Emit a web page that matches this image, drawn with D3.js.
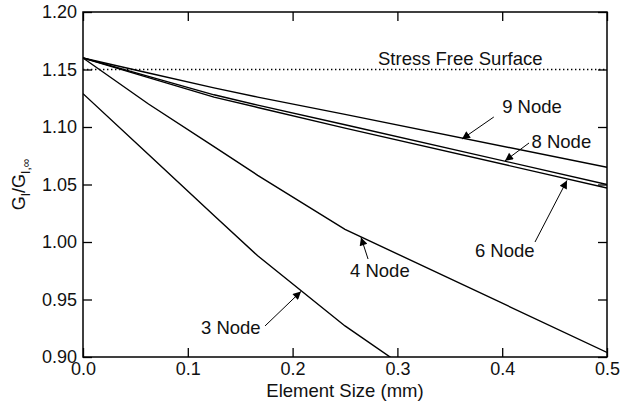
<!DOCTYPE html>
<html>
<head>
<meta charset="utf-8">
<script src="https://cdn.jsdelivr.net/npm/d3@7"></script>
<style>
    body { margin: 0; background: #fff; }
    svg { display: block; font-family: "Liberation Sans", Arial, Helvetica, sans-serif; }
</style>
</head>
<body>
<div id="chart"></div>
<script>
// 1. Data
const elementSizes = [0, 0.0625, 0.125, 0.1667, 0.25, 0.5];
const node9 = [1.160, 1.147, 1.134, 1.126, 1.111, 1.065];
const node8 = [1.160, 1.144, 1.128, 1.119, 1.102, 1.050];
const node6 = [1.160, 1.143, 1.126, 1.117, 1.099, 1.047];
const node4 = [1.160, 1.120, 1.083, 1.058, 1.011, 0.904];
const node3 = [1.129, 1.076, 1.023, 0.988, 0.927, 0.770];

const stressFree = 1.15;
const xTicks = [0, 0.1, 0.2, 0.3, 0.4, 0.5];
const yTicks = [0.90, 0.95, 1.00, 1.05, 1.10, 1.15, 1.20];

// label text, text anchor point, arrow tail, arrow head (data units)
const labels = [
    { text: "9 Node", tx: 0.400, ty: 1.1122, x1: 0.392, y1: 1.1087, x2: 0.3616, y2: 1.0895 },
    { text: "8 Node", tx: 0.428, ty: 1.0817, x1: 0.4256, y1: 1.0861, x2: 0.4027, y2: 1.0706 },
    { text: "6 Node", tx: 0.374, ty: 0.987, x1: 0.4313, y1: 1.000, x2: 0.4618, y2: 1.0535 },
    { text: "4 Node", tx: 0.2548, ty: 0.9696, x1: 0.272, y1: 0.9852, x2: 0.2653, y2: 1.0040 },
    { text: "3 Node", tx: 0.1126, ty: 0.920, x1: 0.1737, y1: 0.927, x2: 0.208, y2: 0.9570 }
];

// 2. Chart
function renderChart() {
    const width = 632, height = 408;
    const margin = { top: 12, right: 25, bottom: 51, left: 83 };
    const plotWidth = width - margin.left - margin.right;
    const plotHeight = height - margin.top - margin.bottom;
    const fontSize = "18.5px";

    const svg = d3.select("#chart").append("svg")
        .attr("width", width)
        .attr("height", height);

    svg.append("defs").append("clipPath").attr("id", "plot-clip")
        .append("rect").attr("width", plotWidth).attr("height", plotHeight);

    svg.select("defs").append("marker")
        .attr("id", "arrow")
        .attr("viewBox", "0 0 10 10")
        .attr("refX", 10).attr("refY", 5)
        .attr("markerUnits", "userSpaceOnUse")
        .attr("markerWidth", 11).attr("markerHeight", 8)
        .attr("orient", "auto")
        .append("path").attr("d", "M0,0 L10,5 L0,10 Z").attr("fill", "#000");

    const chart = svg.append("g").attr("transform", `translate(${margin.left},${margin.top})`);

    const x = d3.scaleLinear().domain([0, 0.5]).range([0, plotWidth]);
    const y = d3.scaleLinear().domain([0.90, 1.20]).range([plotHeight, 0]);

    // axes, ticks pointing inward on all four sides
    const tickLen = 9;
    chart.append("g").attr("class", "axis")
        .attr("transform", `translate(0,${plotHeight})`)
        .call(d3.axisBottom(x).tickValues(xTicks).tickSizeInner(-tickLen).tickSizeOuter(0)
            .tickPadding(5).tickFormat(d3.format(".1f")));
    chart.append("g").attr("class", "axis")
        .call(d3.axisTop(x).tickValues(xTicks).tickSizeInner(-tickLen).tickSizeOuter(0).tickFormat(""));
    chart.append("g").attr("class", "axis")
        .call(d3.axisLeft(y).tickValues(yTicks).tickSizeInner(-tickLen).tickSizeOuter(0)
            .tickPadding(6).tickFormat(d3.format(".2f")));
    chart.append("g").attr("class", "axis")
        .attr("transform", `translate(${plotWidth},0)`)
        .call(d3.axisRight(y).tickValues(yTicks).tickSizeInner(-tickLen).tickSizeOuter(0).tickFormat(""));

    chart.selectAll(".axis .domain").remove();
    chart.selectAll(".axis line").attr("stroke", "#000").attr("stroke-width", 1.3);
    chart.selectAll(".axis text").attr("fill", "#111").style("font-size", "18px")
        .style("font-family", "'Liberation Sans', Arial, sans-serif");

    chart.append("rect")
        .attr("width", plotWidth).attr("height", plotHeight)
        .attr("fill", "none").attr("stroke", "#000").attr("stroke-width", 1.5);

    // stress free reference line
    chart.append("line")
        .attr("x1", x(0)).attr("x2", x(0.5))
        .attr("y1", y(stressFree)).attr("y2", y(stressFree))
        .attr("stroke", "#000").attr("stroke-width", 1.4)
        .attr("stroke-dasharray", "1.4,2.6");
    chart.append("text")
        .attr("x", x(0.2815)).attr("y", y(1.1539))
        .style("font-size", fontSize).attr("fill", "#111")
        .text("Stress Free Surface");

    // element curves
    const series = [node9, node8, node6, node4, node3];
    const line = d3.line()
        .x((v, i) => x(elementSizes[i]))
        .y(v => y(v));
    chart.append("g").attr("clip-path", "url(#plot-clip)")
        .selectAll("path")
        .data(series)
        .enter()
        .append("path")
        .attr("d", line)
        .attr("fill", "none")
        .attr("stroke", "#000")
        .attr("stroke-width", 1.4);

    // arrow labels
    const notes = chart.selectAll(".note").data(labels).enter().append("g").attr("class", "note");
    notes.append("line")
        .attr("x1", d => x(d.x1)).attr("y1", d => y(d.y1))
        .attr("x2", d => x(d.x2)).attr("y2", d => y(d.y2))
        .attr("stroke", "#000").attr("stroke-width", 1)
        .attr("marker-end", "url(#arrow)");
    notes.append("text")
        .attr("x", d => x(d.tx)).attr("y", d => y(d.ty))
        .style("font-size", fontSize).attr("fill", "#111")
        .text(d => d.text);

    // axis titles
    chart.append("text")
        .attr("x", plotWidth / 2).attr("y", plotHeight + 40)
        .attr("text-anchor", "middle")
        .style("font-size", fontSize).attr("fill", "#111")
        .text("Element Size (mm)");

    const yTitle = chart.append("text")
        .attr("transform", `translate(${-margin.left + 25},${plotHeight / 2}) rotate(-90)`)
        .attr("text-anchor", "middle")
        .style("font-size", "18px").attr("fill", "#111");
    yTitle.append("tspan").text("G");
    yTitle.append("tspan").attr("dy", 5).style("font-size", "12px").text("I");
    yTitle.append("tspan").attr("dy", -5).text("/G");
    yTitle.append("tspan").attr("dy", 5).style("font-size", "12px").text("I,∞");
}

document.addEventListener("DOMContentLoaded", renderChart);
</script>
</body>
</html>
